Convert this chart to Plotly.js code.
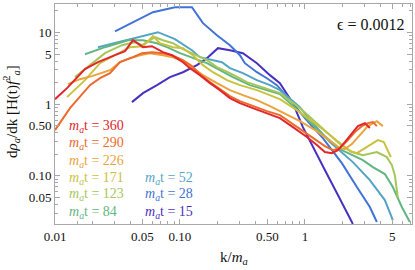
<!DOCTYPE html>
<html>
<head>
<meta charset="utf-8">
<script src="https://cdn.plot.ly/plotly-3.0.1.min.js"></script>
<style>html,body{margin:0;padding:0;background:#fff}#plot{width:415px;height:270px}</style>
</head>
<body>
<div id="plot"></div>
<script>
// time labels (m_a t) and colours
const times = [360, 290, 226, 171, 123, 84, 52, 28, 15];
const colors = ['#e2262a', '#ec6a2d', '#eba33c', '#c9c23f', '#a7c65a', '#63b67f', '#53a4c6', '#4273d6', '#4a30c2'];

// spectra: k/m_a and dρ/dk values
const k360 = [0.01, 0.01248, 0.01738, 0.02208, 0.0302, 0.0363, 0.0421, 0.0506, 0.0597, 0.0731, 0.0863, 0.1057, 0.1202, 0.1445, 0.1738, 0.2089, 0.2512, 0.302, 0.3837, 0.4966, 0.631, 0.802, 1.038, 1.247, 1.445, 1.644, 1.837, 2.089, 2.377, 2.655, 3.02, 3.311];
const v360 = [1.174, 1.672, 3.08, 3.85, 4.82, 5.49, 7.81, 6.24, 6.44, 5.31, 4.82, 3.85, 3.18, 2.54, 1.963, 1.567, 1.212, 1.033, 0.880, 0.749, 0.638, 0.478, 0.347, 0.268, 0.214, 0.207, 0.228, 0.295, 0.394, 0.493, 0.543, 0.463];

const k290 = [0.01, 0.01318, 0.01905, 0.02291, 0.02754, 0.0331, 0.0421, 0.0497, 0.0597, 0.0731, 0.0863, 0.1057, 0.1247, 0.1445, 0.1738, 0.2089, 0.2512, 0.302, 0.3837, 0.4966, 0.631, 0.802, 1.038, 1.247, 1.445, 1.675, 1.905, 2.208, 2.512, 2.858, 3.192, 3.50, 3.767];
const v290 = [0.434, 0.880, 1.841, 2.30, 2.71, 3.85, 4.52, 5.14, 5.31, 5.14, 4.82, 4.11, 3.39, 2.62, 2.03, 1.619, 1.293, 1.101, 0.938, 0.799, 0.703, 0.526, 0.394, 0.315, 0.260, 0.228, 0.243, 0.315, 0.407, 0.493, 0.543, 0.561, 0.493];

const k226 = [0.0127, 0.01585, 0.01977, 0.02377, 0.02754, 0.0331, 0.0398, 0.0479, 0.0575, 0.0731, 0.0879, 0.1057, 0.127, 0.1528, 0.1977, 0.2512, 0.319, 0.413, 0.525, 0.631, 0.912, 1.247, 1.585, 1.905, 2.089, 2.377, 2.754, 3.192, 3.767, 4.207];
const v226 = [1.90, 2.23, 2.46, 2.71, 2.98, 3.85, 4.38, 4.82, 5.14, 4.82, 4.52, 3.98, 3.18, 2.54, 1.963, 1.567, 1.335, 1.137, 0.938, 0.799, 0.579, 0.420, 0.305, 0.243, 0.236, 0.277, 0.370, 0.493, 0.579, 0.493];

const k171 = [0.01248, 0.01738, 0.02291, 0.0302, 0.0398, 0.0506, 0.0608, 0.0692, 0.0879, 0.1057, 0.127, 0.1528, 0.1837, 0.2377, 0.302, 0.413, 0.525, 0.631, 0.912, 1.318, 1.905, 2.291, 2.606, 3.02, 3.436, 3.837, 4.285, 4.613, 4.875];
const v171 = [1.252, 2.16, 3.73, 4.82, 6.24, 6.44, 8.88, 7.09, 6.24, 6.04, 4.82, 3.50, 2.79, 2.16, 1.841, 1.567, 1.335, 1.174, 0.773, 0.478, 0.286, 0.221, 0.207, 0.243, 0.286, 0.315, 0.295, 0.228, 0.182];

const k123 = [0.01445, 0.01905, 0.02512, 0.03436, 0.04365, 0.0497, 0.0631, 0.0731, 0.0879, 0.1057, 0.1368, 0.1644, 0.1977, 0.2512, 0.3436, 0.4613, 0.631, 0.912, 1.318, 1.905, 2.377, 2.911, 3.767, 4.529, 4.966, 5.248, 5.546];
const v123 = [2.38, 3.50, 5.14, 6.65, 7.33, 6.65, 8.6, 7.81, 7.09, 5.85, 4.82, 4.11, 3.28, 2.71, 2.03, 1.726, 1.424, 0.880, 0.493, 0.277, 0.214, 0.194, 0.214, 0.182, 0.141, 0.102, 0.0489];

const k84 = [0.01738, 0.02512, 0.0384, 0.0506, 0.0655, 0.0787, 0.1, 0.127, 0.1644, 0.2089, 0.2655, 0.363, 0.4966, 0.631, 0.912, 1.318, 1.905, 2.421, 2.911, 3.50, 4.365, 5.058, 5.97, 6.92];
const v84 = [4.98, 6.24, 7.81, 7.81, 7.09, 6.24, 5.14, 4.38, 3.73, 2.98, 2.38, 1.841, 1.567, 1.379, 0.773, 0.407, 0.236, 0.194, 0.1656, 0.132, 0.1057, 0.0696, 0.0366, 0.0226];

const k52 = [0.02208, 0.0363, 0.0667, 0.0912, 0.1096, 0.1247, 0.1445, 0.1837, 0.2168, 0.2512, 0.319, 0.413, 0.525, 0.631, 0.912, 1.159, 1.585, 2.421, 3.311, 4.365, 5.058];
const v52 = [6.24, 7.81, 10.1, 8.07, 6.65, 5.66, 4.52, 4.11, 3.85, 3.18, 2.71, 2.16, 1.841, 1.567, 0.908, 0.543, 0.295, 0.155, 0.0871, 0.0458, 0.0241];

const k28 = [0.0302, 0.0608, 0.0912, 0.1247, 0.1528, 0.1977, 0.2512, 0.302, 0.331, 0.413, 0.4966, 0.597, 0.802, 1.0, 1.393, 1.977, 2.606, 3.311, 3.767];
const v28 = [10.4, 19.2, 22.5, 22.5, 13.5, 9.17, 6.65, 4.82, 3.73, 2.79, 2.30, 1.841, 1.033, 0.638, 0.336, 0.150, 0.0696, 0.0366, 0.0226];

const k15 = [0.0413, 0.0506, 0.0655, 0.0832, 0.1057, 0.1368, 0.1644, 0.2014, 0.2512, 0.319, 0.413, 0.525, 0.631, 0.802, 0.964, 1.159, 1.445, 1.803, 2.089, 2.421];
const v15 = [1.066, 1.424, 1.841, 2.38, 2.79, 3.50, 4.38, 6.04, 5.66, 5.14, 3.73, 2.54, 1.963, 1.033, 0.478, 0.251, 0.120, 0.0574, 0.0354, 0.0212];

// axis ticks
const xTickVals = [0.01, 0.05, 0.1, 0.5, 1, 5];
const xTickText = ['0.01', '0.05', '0.10', '0.50', '1', '5'];
const yTickVals = [0.05, 0.1, 0.5, 1, 5, 10];
const yTickText = ['0.05', '0.10', '0.50', '1', '5', '10'];
const xMinor = [0.015, 0.02, 0.03, 0.04, 0.06, 0.07, 0.08, 0.09, 0.2, 0.3, 0.4, 0.6, 0.7, 0.8, 0.9, 2, 3, 4, 6, 7];
const yMinor = [0.03, 0.04, 0.06, 0.07, 0.08, 0.09, 0.2, 0.3, 0.4, 0.6, 0.7, 0.8, 0.9, 2, 3, 4, 6, 7, 8, 9, 20];

const series = [
  [k15, v15], [k28, v28], [k52, v52], [k84, v84], [k123, v123],
  [k171, v171], [k226, v226], [k290, v290], [k360, v360]
];
const order = [15, 28, 52, 84, 123, 171, 226, 290, 360];

const traces = series.map((s, i) => {
  const t = order[i];
  const c = colors[times.indexOf(t)];
  return {x: s[0], y: s[1], type: 'scatter', mode: 'lines', name: String(t),
          line: {color: c, width: 2}, hoverinfo: 'skip'};
});

const serif = 'Liberation Serif, Times New Roman, serif';
const leftCol = [360, 290, 226, 171, 123, 84];
const rightCol = [52, 28, 15];
const rowY = [0.441, 0.364, 0.286, 0.209, 0.132, 0.0545];
const annotations = [];
leftCol.forEach((t, i) => annotations.push({
  xref: 'paper', yref: 'paper', x: 0.034, y: rowY[i], xanchor: 'left', yanchor: 'middle',
  text: '<i>m</i><sub><i>a</i></sub>t = ' + t, showarrow: false,
  font: {family: serif, size: 14, color: colors[times.indexOf(t)]}
}));
rightCol.forEach((t, i) => annotations.push({
  xref: 'paper', yref: 'paper', x: 0.246, y: rowY[i + 3], xanchor: 'left', yanchor: 'middle',
  text: '<i>m</i><sub><i>a</i></sub>t = ' + t, showarrow: false,
  font: {family: serif, size: 14, color: colors[times.indexOf(t)]}
}));
annotations.push({
  xref: 'paper', yref: 'paper', x: 0.986, y: 0.909, xanchor: 'right', yanchor: 'middle',
  text: 'ϵ = 0.0012', showarrow: false, font: {family: serif, size: 16, color: '#111'}
});
annotations.push({
  xref: 'paper', yref: 'paper', x: -0.123, y: 0.51, xanchor: 'center', yanchor: 'middle',
  textangle: -90, showarrow: false,
  text: 'd<i>ρ</i><sub><i>a</i></sub>/dk [H(t)<i>f</i><sup>2</sup><sub><i>a</i></sub>]',
  font: {family: serif, size: 15, color: '#111'}
});
annotations.push({
  xref: 'paper', yref: 'paper', x: 0.5, y: -0.155, xanchor: 'center', yanchor: 'middle',
  showarrow: false, text: 'k/<i>m</i><sub><i>a</i></sub>',
  font: {family: serif, size: 15, color: '#111'}
});

const axisCommon = {
  type: 'log', showgrid: false, zeroline: false, showline: true, linecolor: '#a8a8a8', linewidth: 1,
  mirror: 'allticks', ticks: 'inside', ticklen: 5, tickcolor: '#a8a8a8', tickwidth: 1,
  tickfont: {family: serif, size: 13, color: '#111'}, tickmode: 'array'
};

const layout = {
  width: 415, height: 270,
  margin: {l: 55, r: 3, t: 4, b: 46},
  paper_bgcolor: '#fff', plot_bgcolor: '#fff',
  showlegend: false,
  xaxis: Object.assign({}, axisCommon, {
    range: [-2, Math.log10(7.2)], tickvals: xTickVals, ticktext: xTickText,
    minor: {tickmode: 'array', tickvals: xMinor, ticks: 'inside', ticklen: 3, tickcolor: '#a8a8a8', showgrid: false}
  }),
  yaxis: Object.assign({}, axisCommon, {
    range: [Math.log10(0.0212), Math.log10(25)], tickvals: yTickVals, ticktext: yTickText,
    minor: {tickmode: 'array', tickvals: yMinor, ticks: 'inside', ticklen: 3, tickcolor: '#a8a8a8', showgrid: false}
  }),
  annotations: annotations
};

Plotly.newPlot('plot', traces, layout, {staticPlot: true, displayModeBar: false});
</script>
</body>
</html>
